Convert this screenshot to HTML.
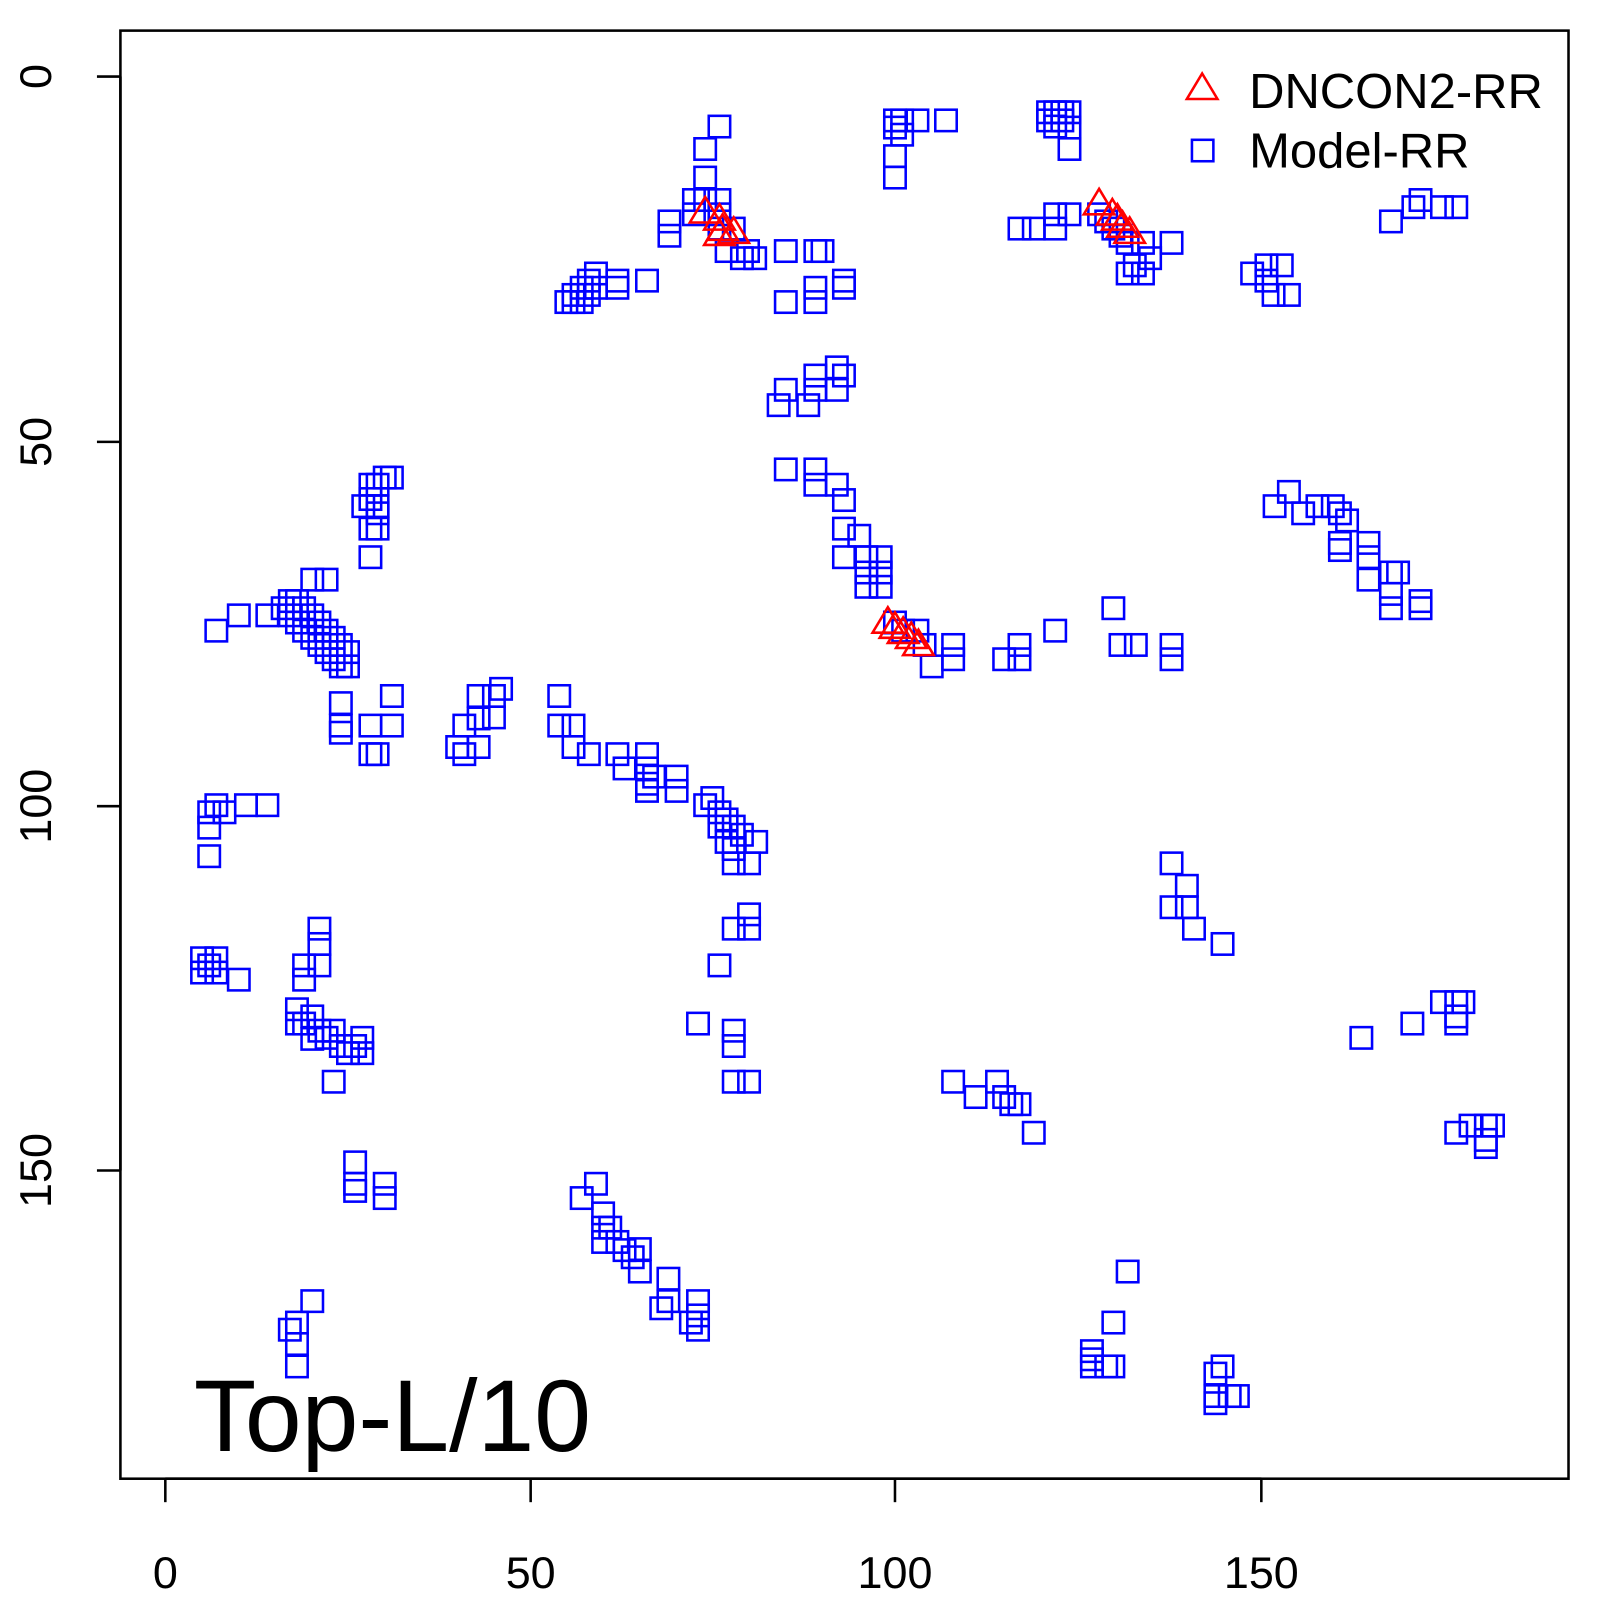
<!DOCTYPE html>
<html><head><meta charset="utf-8"><style>html,body{margin:0;padding:0;background:#fff}svg{display:block}</style></head>
<body>
<svg id="s" width="1600" height="1600" viewBox="0 0 1600 1600" xmlns="http://www.w3.org/2000/svg" font-family="Liberation Sans, sans-serif">
<rect x="0" y="0" width="1600" height="1600" fill="#fff"/>
<g transform="scale(1.0205)">
<rect x="118" y="30" width="1419" height="1419" fill="none" stroke="#000" stroke-width="2.5"/>
<g stroke="#000" stroke-width="2.5">
<line x1="162" y1="1449" x2="1236" y2="1449"/>
<line x1="162" y1="1449" x2="162" y2="1472"/><line x1="520" y1="1449" x2="520" y2="1472"/><line x1="877" y1="1449" x2="877" y2="1472"/><line x1="1236" y1="1449" x2="1236" y2="1472"/>
<line x1="118" y1="75" x2="118" y2="1147"/>
<line x1="118" y1="75" x2="95" y2="75"/><line x1="118" y1="433" x2="95" y2="433"/><line x1="118" y1="790" x2="95" y2="790"/><line x1="118" y1="1147" x2="95" y2="1147"/>
</g>
<g font-size="44" text-anchor="middle" fill="#000">
<text x="162" y="1556">0</text><text x="520" y="1556">50</text><text x="877" y="1556">100</text><text x="1236" y="1556">150</text>
<text transform="translate(50,75) rotate(-90)">0</text>
<text transform="translate(50,433) rotate(-90)">50</text>
<text transform="translate(50,790) rotate(-90)">100</text>
<text transform="translate(50,1147) rotate(-90)">150</text>
</g>
<g id="sq" fill="none" stroke="#00f" stroke-width="2.5"></g>
<g id="tr" fill="none" stroke="#f00" stroke-width="2.5"></g>
<polygon points="1178,72 1193,97 1163,97" fill="none" stroke="#f00" stroke-width="2.5"/>
<rect x="1168" y="137" width="21" height="21" fill="none" stroke="#00f" stroke-width="2.5"/>
<text x="1224" y="106" font-size="48">DNCON2-RR</text>
<text x="1224" y="164" font-size="48">Model-RR</text>
<text x="190" y="1422" font-size="100">Top-L/10</text>
</g>
</svg>
<script>
var S=[[705,124],[691,146],[691,174],[680,196],[691,196],[705,196],[680,210],[705,210],[656,217],[656,231],[705,224],[719,224],[712,246],[733,246],[740,253],[727,253],[770,246],[799,246],[806,246],[770,296],[799,296],[799,282],[827,275],[827,282],
[555,296],[562,289],[570,282],[577,275],[584,268],[562,296],[570,296],[577,289],[584,282],[605,282],[605,275],[634,275],
[877,118],[884,118],[899,118],[927,118],[877,125],[884,132],[877,153],[877,174],
[1027,110],[1034,110],[1041,110],[1048,110],[1027,118],[1041,118],[1048,125],[1048,146],[1034,124],
[999,224],[1013,224],[1034,224],[1034,210],[1048,210],[1077,210],[1084,217],[1091,224],[1098,231],[1105,238],[1120,238],[1148,238],[1105,268],[1120,268],[1112,260],[1127,253],
[1227,268],[1241,260],[1256,260],[1241,275],[1248,289],[1263,289],[1363,217],[1385,203],[1392,196],[1413,203],[1427,203],
[763,397],[770,382],[792,397],[799,382],[799,368],[820,360],[827,368],[820,382],[770,460],[799,460],[799,475],[820,475],[827,490],[827,518],[842,525],[827,546],[849,546],[863,546],[849,561],[863,561],[849,575],[863,575],
[877,610],[885,618],[899,618],[906,632],[913,653],[934,632],[934,646],[984,646],[999,632],[999,646],[1034,618],[1091,596],[1098,632],[1113,632],[1148,632],[1148,646],
[1249,496],[1263,482],[1277,503],[1291,496],[1306,496],[1313,503],[1320,510],[1313,532],[1313,539],[1341,532],[1341,546],[1341,568],[1363,561],[1370,561],[1363,582],[1363,596],[1392,589],[1392,596],
[363,475],[370,475],[377,468],[384,468],[363,489],[356,496],[370,496],[370,503],[363,518],[370,518],[363,546],[306,568],[320,568],[284,589],[291,589],[298,596],[306,603],[313,610],[320,618],[327,625],[334,632],[341,639],[341,653],[284,603],[291,610],[298,618],[306,625],[313,632],[320,639],[327,646],[334,653],[212,618],[234,603],[262,603],[277,596],
[334,689],[334,711],[334,718],[363,711],[384,682],[384,711],[363,739],[370,739],
[448,732],[455,739],[455,711],[469,732],[469,704],[469,682],[484,682],[484,703],[491,675],
[548,682],[548,711],[562,711],[562,732],[577,739],[605,739],[612,753],[634,739],[634,753],[634,768],[634,775],[641,761],[663,761],[663,775],[691,789],[698,782],[705,796],[712,803],[719,810],[727,818],[741,825],[705,810],[712,825],[719,846],[734,846],[719,832],
[205,796],[212,789],[220,796],[241,789],[262,789],[205,811],[205,839],
[198,939],[205,946],[212,953],[198,953],[212,939],[234,960],[298,946],[298,960],[313,910],[313,925],[313,946],[291,989],[298,1003],[306,996],[313,1010],[320,1017],[327,1010],[334,1025],[341,1032],[348,1025],[355,1017],[355,1032],[327,1060],[291,1003],[306,1018],
[684,1003],[705,946],[719,1010],[719,1025],[719,1060],[734,1060],[734,896],[734,910],[719,910],
[1148,846],[1163,868],[1163,889],[1170,910],[1148,889],[1198,925],
[934,1060],[956,1075],[977,1060],[984,1075],[991,1082],[999,1082],[1013,1110],
[1334,1017],[1384,1003],[1413,982],[1427,982],[1434,982],[1427,1003],[1427,996],[1427,1110],[1441,1103],[1456,1103],[1463,1103],[1456,1124],[1456,1117],
[348,1139],[348,1160],[348,1167],[377,1160],[377,1174],
[570,1174],[584,1160],[591,1189],[591,1203],[591,1217],[605,1217],[620,1232],[627,1224],[627,1246],[655,1253],[655,1275],[648,1282],[684,1275],[684,1303],[677,1296],[684,1289],[598,1203],[612,1225],
[306,1275],[291,1296],[284,1303],[291,1317],[291,1339],
[1105,1246],[1091,1296],[1070,1324],[1070,1339],[1070,1332],[1084,1339],[1091,1339],[1198,1339],[1191,1346],[1191,1368],[1191,1375],[1205,1368],[1213,1368]];
var T=[[691,208],[705,215],[708,225],[719,228],[705,230],[1077,200],[1090,210],[1095,215],[1100,222],[1107,228],[870,610],[877,615],[885,620],[893,625],[900,632]];
var ns="http://www.w3.org/2000/svg",g=document.getElementById("sq"),t=document.getElementById("tr");
S.forEach(function(p){var r=document.createElementNS(ns,"rect");r.setAttribute("x",p[0]-10.5);r.setAttribute("y",p[1]-10.5);r.setAttribute("width",21);r.setAttribute("height",21);g.appendChild(r);});
T.forEach(function(p){var r=document.createElementNS(ns,"polygon");r.setAttribute("points",p[0]+","+(p[1]-15)+" "+(p[0]+15)+","+(p[1]+10)+" "+(p[0]-15)+","+(p[1]+10));t.appendChild(r);});
</script>
</body></html>
